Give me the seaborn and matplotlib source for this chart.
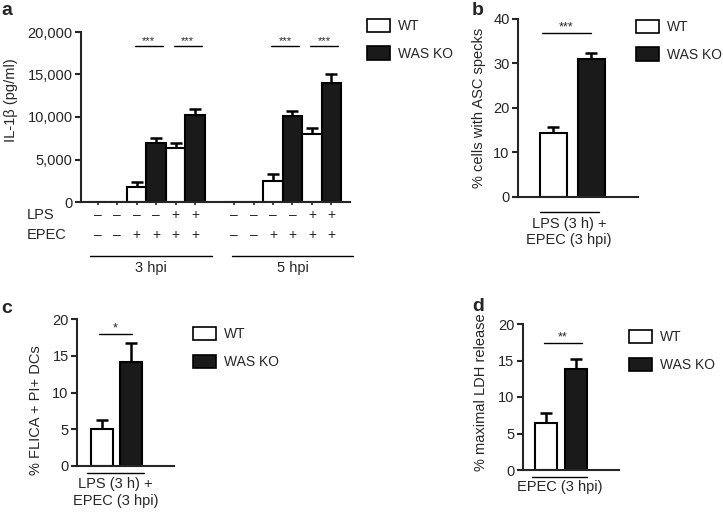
import numpy as np
import pandas as pd
import matplotlib
matplotlib.use('Agg')
import matplotlib.pyplot as plt
import seaborn as sns
from matplotlib.patches import Patch

sns.set_style('ticks')
plt.rcParams['font.family'] = ['Liberation Sans', 'DejaVu Sans']
plt.rcParams['font.size'] = 10

# panel a: IL-1b release, two time points, 6 conditions each (WT / WAS KO alternating)
a_genotype = ['WT', 'WAS KO', 'WT', 'WAS KO', 'WT', 'WAS KO']
a_lps = ['\u2013', '\u2013', '\u2013', '\u2013', '+', '+']
a_epec = ['\u2013', '\u2013', '+', '+', '+', '+']
a_groups = ['3 hpi', '5 hpi']
il1b_3h = [0, 0, 1800, 7000, 6300, 10200]
il1b_3h_err = [0, 0, 500, 550, 650, 750]
il1b_5h = [0, 0, 2450, 10100, 7950, 14000]
il1b_5h_err = [0, 0, 900, 550, 800, 1000]
a_stars = ['***', '***']

# panel b: ASC specks
b_genotype = ['WT', 'WAS KO']
asc_specks = [14.3, 31.0]
asc_specks_err = [1.3, 1.3]

# panel c: FLICA + PI+ DCs
flica_pi = [5.0, 14.2]
flica_pi_err = [1.3, 2.5]

# panel d: LDH release
ldh_release = [6.5, 13.8]
ldh_release_err = [1.3, 1.4]

palette = {'WT': 'white', 'WAS KO': '#1a1a1a'}

W, H = 723, 512
fig = plt.figure(figsize=(W / 100, H / 100), dpi=100)


def px_axes(left, top, right, bottom):
    return fig.add_axes([left / W, 1 - bottom / H, (right - left) / W, (bottom - top) / H])


def style_axes(ax):
    sns.despine(ax=ax)
    for s in ['left', 'bottom']:
        ax.spines[s].set_linewidth(1.5)
    ax.tick_params(axis='y', length=4, width=1.5, pad=2, labelsize=10.5)
    ax.tick_params(axis='x', length=2, width=1.2, labelsize=10.5)
    ax.set_xlabel('')


def up_errors(ax, x, y, err):
    x = np.asarray(x); y = np.asarray(y, float); err = np.asarray(err, float)
    m = err > 0
    ax.errorbar(x[m], y[m], yerr=[np.zeros(m.sum()), err[m]], fmt='none',
                ecolor='black', elinewidth=1.8, capsize=4.5, capthick=1.8, zorder=1)


def sig(ax, x0, x1, y, text, fs=9):
    ax.plot([x0, x1], [y, y], color='black', lw=1, clip_on=False)
    ax.text((x0 + x1) / 2, y, text, ha='center', va='bottom', fontsize=fs)


def legend_at(left, top):
    handles = [Patch(facecolor=palette[g], edgecolor='black', linewidth=1.2) for g in b_genotype]
    fig.legend(handles, b_genotype, loc='upper left', bbox_to_anchor=(left / W, 1 - top / H),
               frameon=False, borderpad=0, borderaxespad=0, handlelength=1.65,
               handleheight=1.08, handletextpad=0.55, labelspacing=0.95, fontsize=10)


# ---------------- panel a ----------------
ax = px_axes(81, 32, 350, 202)
rows = []
order = []
for gi, (vals, errs) in enumerate([(il1b_3h, il1b_3h_err), (il1b_5h, il1b_5h_err)]):
    for i, (g, v, e) in enumerate(zip(a_genotype, vals, errs)):
        cat = f'{gi}-{i}'
        rows.append({'cond': cat, 'val': v, 'err': e, 'genotype': g})
        order.append(cat)
    if gi == 0:
        order.append('gap')
df_a = pd.DataFrame(rows)
sns.barplot(data=df_a, x='cond', y='val', hue='genotype', order=order, palette=palette,
            dodge=False, width=0.98, edgecolor='black', linewidth=1.5, errorbar=None,
            legend=False, ax=ax, zorder=2)
xpos = [order.index(c) for c in df_a['cond']]
up_errors(ax, xpos, df_a['val'], df_a['err'])
ax.set_ylim(0, 20000)
ax.set_yticks([0, 5000, 10000, 15000, 20000])
ax.set_yticklabels(['0', '5,000', '10,000', '15,000', '20,000'])
ax.set_xlim(-0.85, 12.95)
ax.set_xticks([p for p, c in enumerate(order) if c != 'gap'])
ax.set_xticklabels([])
style_axes(ax)
ax.set_ylabel('IL-1\u03b2 (pg/ml)', fontsize=10.5)
ax.yaxis.set_label_coords(-0.235, 0.6)

trans = matplotlib.transforms.blended_transform_factory(ax.transData, ax.transAxes)
ax.text(-0.2, -0.076, 'LPS', transform=ax.transAxes, ha='left', va='center', fontsize=10.5)
ax.text(-0.2, -0.194, 'EPEC', transform=ax.transAxes, ha='left', va='center', fontsize=10.5)
spans = [(-0.4, 5.85), (6.9, 13.1)]
for gi, grp in enumerate(a_groups):
    base = order.index(f'{gi}-0')
    for i in range(len(a_genotype)):
        ax.text(base + i, -0.076, a_lps[i], transform=trans, ha='center', va='center', fontsize=10)
        ax.text(base + i, -0.194, a_epec[i], transform=trans, ha='center', va='center', fontsize=10)
    x0, x1 = spans[gi]
    ax.plot([x0, x1], [-0.318, -0.318], transform=trans, color='black', lw=1, clip_on=False)
    ax.text((x0 + x1) / 2, -0.345, grp, transform=trans, ha='center', va='top', fontsize=10.5)
    for k, (l, r) in enumerate([(2, 3), (4, 5)]):
        sig(ax, base + l - 0.1, base + r + 0.35, 18350, a_stars[k], fs=8)

legend_at(367, 19)


# ---------------- small panels ----------------
def small_panel(box, vals, errs, ylim, yticks, ylabel, lab_xy, width, xlim,
                stars, sig_y, sig_x, under_x, under_y, cond_text, cond_y):
    ax = px_axes(*box)
    df = pd.DataFrame({'genotype': b_genotype, 'val': vals, 'err': errs})
    sns.barplot(data=df, x='genotype', y='val', hue='genotype', order=b_genotype,
                palette=palette, dodge=False, width=width, edgecolor='black',
                linewidth=1.5, errorbar=None, legend=False, ax=ax, zorder=2)
    up_errors(ax, [b_genotype.index(g) for g in df['genotype']], df['val'], df['err'])
    ax.set_ylim(*ylim)
    ax.set_yticks(yticks)
    ax.set_xlim(*xlim)
    ax.set_xticks([])
    style_axes(ax)
    ax.set_ylabel(ylabel, fontsize=10.5)
    ax.yaxis.set_label_coords(*lab_xy)
    sig(ax, sig_x[0], sig_x[1], sig_y, stars, fs=9)
    tr = matplotlib.transforms.blended_transform_factory(ax.transData, ax.transAxes)
    ax.plot(under_x, [under_y, under_y], transform=tr, color='black', lw=1, clip_on=False)
    ax.text(sum(under_x) / 2, cond_y, cond_text, transform=tr, ha='center', va='top',
            fontsize=10.5, linespacing=1.2)
    return ax


small_panel((518, 19, 638, 196.7), asc_specks, asc_specks_err, (0, 40), [0, 10, 20, 30, 40],
            '% cells with ASC specks', (-0.27, 0.5), 0.71, (-0.92, 2.23),
            '***', 36.8, (-0.3, 1.0), [-0.35, 1.2], -0.085, 'LPS (3 h) +\nEPEC (3 hpi)', -0.115)
legend_at(636, 20)

small_panel((77, 319.3, 174, 465.7), flica_pi, flica_pi_err, (0, 20), [0, 5, 10, 15, 20],
            '% FLICA + PI+ DCs', (-0.35, 0.38), 0.76, (-0.855, 2.5),
            '*', 18.0, (-0.1, 1.05), [-0.5, 1.45], -0.05, 'LPS (3 h) +\nEPEC (3 hpi)', -0.08)
legend_at(193, 327)

small_panel((522.7, 324, 619, 470), ldh_release, ldh_release_err, (0, 20), [0, 5, 10, 15, 20],
            '% maximal LDH release', (-0.36, 0.53), 0.74, (-0.78, 2.46),
            '**', 17.4, (-0.05, 1.2), [-0.47, 1.4], -0.045, 'EPEC (3 hpi)', -0.07)
legend_at(629, 330)

# panel letters
for letter, (x, y) in zip('abcd', [(1, 2), (472, 2), (1, 300), (472, 298)]):
    fig.text(x / W, 1 - y / H, letter, fontsize=14, fontweight='bold', ha='left', va='top')

fig.savefig('out.png', dpi=100)
